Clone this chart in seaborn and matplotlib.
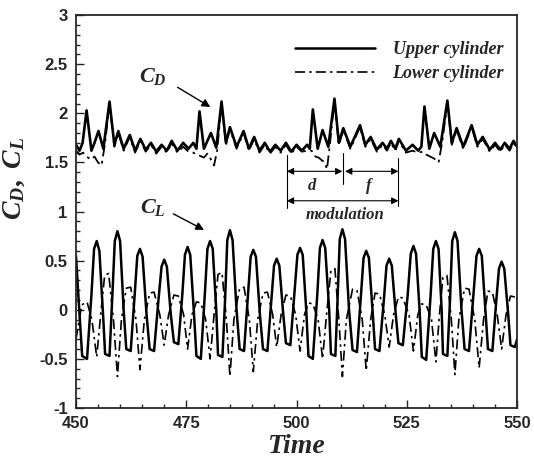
import numpy as np
import pandas as pd
import matplotlib
matplotlib.use("Agg")
import matplotlib.pyplot as plt
from matplotlib.lines import Line2D
import seaborn as sns

# lift coefficient, (time, value)
cl_upper = [
    (450.0, 0.55), (450.6, 0.10), (451.4, -0.47), (452.5, -0.50), (453.5, 0.15), (454.1, 0.62),
    (454.7, 0.70), (455.3, 0.60), (456.2, -0.10), (456.6, -0.45), (457.6, -0.47), (458.2, 0.10),
    (458.8, 0.70), (459.4, 0.80), (460.0, 0.70), (460.8, 0.00), (461.4, -0.40), (462.4, -0.42),
    (463.3, 0.15), (463.9, 0.55), (464.5, 0.62), (465.1, 0.54), (466.0, -0.05), (466.7, -0.40),
    (467.7, -0.42), (468.7, 0.10), (469.4, 0.44), (470.0, 0.51), (470.6, 0.44), (471.5, -0.05),
    (472.2, -0.33), (473.2, -0.35), (474.1, 0.15), (474.7, 0.56), (475.3, 0.64), (475.9, 0.56),
    (476.7, 0.00), (477.3, -0.47), (478.3, -0.50), (479.2, 0.15), (479.8, 0.62), (480.4, 0.70),
    (481.0, 0.62), (481.8, 0.00), (482.2, -0.46), (483.2, -0.48), (483.8, 0.10), (484.3, 0.71),
    (484.9, 0.81), (485.5, 0.71), (486.4, 0.00), (487.1, -0.40), (488.1, -0.42), (489.0, 0.15),
    (489.6, 0.54), (490.2, 0.61), (490.8, 0.54), (491.7, -0.05), (492.4, -0.40), (493.4, -0.42),
    (494.3, 0.10), (494.9, 0.45), (495.5, 0.52), (496.1, 0.45), (497.0, -0.05), (497.6, -0.34),
    (498.6, -0.36), (499.5, 0.15), (500.2, 0.56), (500.8, 0.63), (501.4, 0.56), (502.2, 0.00),
    (502.7, -0.47), (503.7, -0.50), (504.7, 0.15), (505.3, 0.63), (505.9, 0.71), (506.5, 0.63),
    (507.4, 0.00), (507.8, -0.45), (508.8, -0.47), (509.3, 0.10), (509.8, 0.72), (510.4, 0.82),
    (511.0, 0.72), (511.9, 0.00), (512.7, -0.41), (513.7, -0.43), (514.6, 0.15), (515.2, 0.53),
    (515.8, 0.60), (516.4, 0.53), (517.3, -0.05), (517.8, -0.40), (518.8, -0.42), (519.8, 0.10),
    (520.4, 0.45), (521.0, 0.52), (521.6, 0.45), (522.5, -0.05), (523.1, -0.34), (524.1, -0.36),
    (525.2, 0.15), (525.9, 0.57), (526.5, 0.65), (527.1, 0.57), (527.9, 0.00), (528.4, -0.48),
    (529.4, -0.51), (530.4, 0.15), (531.0, 0.62), (531.6, 0.70), (532.2, 0.62), (532.9, 0.00),
    (533.2, -0.45), (534.2, -0.47), (534.8, 0.10), (535.3, 0.70), (535.9, 0.79), (536.5, 0.70),
    (537.4, 0.00), (538.1, -0.40), (539.1, -0.42), (540.1, 0.15), (540.8, 0.55), (541.4, 0.62),
    (542.0, 0.55), (542.9, -0.05), (543.4, -0.40), (544.4, -0.42), (545.3, 0.10), (545.9, 0.42),
    (546.5, 0.49), (547.1, 0.42), (548.0, -0.05), (548.5, -0.36), (549.5, -0.38), (550.0, -0.30)]
cl_lower = [
    (450.0, -0.30), (451.3, 0.05), (452.5, 0.08), (453.6, -0.10), (454.7, -0.48), (455.6, -0.05),
    (456.5, 0.35), (457.4, 0.37), (458.5, -0.10), (459.4, -0.68), (460.3, -0.10), (461.4, 0.22),
    (462.4, 0.23), (463.6, -0.10), (464.5, -0.61), (465.5, -0.10), (466.7, 0.17), (467.7, 0.18),
    (469.0, -0.05), (470.0, -0.36), (471.0, -0.05), (472.2, 0.15), (473.2, 0.14), (474.4, -0.05),
    (475.3, -0.40), (476.3, -0.05), (477.3, 0.08), (478.3, 0.07), (479.4, -0.10), (480.4, -0.50),
    (481.3, -0.05), (482.2, 0.36), (483.1, 0.38), (484.1, -0.10), (484.9, -0.68), (485.8, -0.10),
    (487.1, 0.22), (488.1, 0.23), (489.3, -0.10), (490.2, -0.63), (491.2, -0.10), (492.4, 0.17),
    (493.4, 0.18), (494.6, -0.05), (495.5, -0.38), (496.5, -0.05), (497.6, 0.15), (498.6, 0.14),
    (499.8, -0.05), (500.8, -0.42), (501.8, -0.05), (502.7, 0.07), (503.7, 0.06), (504.9, -0.10),
    (505.9, -0.50), (506.8, -0.05), (507.8, 0.40), (508.7, 0.42), (509.6, -0.10), (510.4, -0.68),
    (511.3, -0.10), (512.7, 0.21), (513.7, 0.20), (514.9, -0.10), (515.8, -0.62), (516.8, -0.10),
    (517.8, 0.17), (518.8, 0.16), (520.0, -0.05), (521.0, -0.38), (522.0, -0.05), (523.1, 0.13),
    (524.1, 0.12), (525.5, -0.05), (526.5, -0.42), (527.5, -0.05), (528.4, 0.06), (529.4, 0.05),
    (530.6, -0.10), (531.6, -0.53), (532.4, -0.05), (533.2, 0.33), (534.1, 0.35), (535.1, -0.10),
    (535.9, -0.66), (536.8, -0.10), (538.1, 0.22), (539.1, 0.21), (540.4, -0.10), (541.4, -0.59),
    (542.4, -0.10), (543.4, 0.19), (544.4, 0.18), (545.5, -0.05), (546.5, -0.40), (547.5, -0.05),
    (548.5, 0.14), (549.5, 0.13), (550.0, 0.10)]

# drag coefficient, (time, value)
cd_upper = [
    (450.0, 1.68), (450.8, 1.62), (451.5, 1.70), (452.4, 2.03), (453.5, 1.62), (454.2, 1.70),
    (455.1, 1.82), (456.2, 1.64), (457.6, 2.12), (458.7, 1.68), (459.6, 1.82), (460.8, 1.64),
    (462.2, 1.78), (463.4, 1.62), (464.6, 1.74), (465.8, 1.63), (467.0, 1.70), (468.2, 1.61),
    (469.4, 1.68), (470.6, 1.62), (471.7, 1.72), (473.0, 1.62), (474.3, 1.70), (475.5, 1.64),
    (476.6, 1.70), (477.3, 1.64), (478.0, 2.02), (479.0, 1.64), (479.8, 1.72), (480.6, 1.80),
    (481.8, 1.65), (483.0, 2.12), (484.0, 1.70), (484.9, 1.86), (486.4, 1.66), (488.0, 1.82),
    (489.2, 1.64), (490.4, 1.76), (491.6, 1.62), (492.8, 1.70), (494.0, 1.61), (495.2, 1.68),
    (496.4, 1.62), (497.6, 1.70), (498.8, 1.61), (500.0, 1.68), (501.2, 1.62), (502.4, 1.68),
    (503.0, 1.64), (503.7, 2.04), (504.8, 1.64), (505.9, 1.83), (507.2, 1.66), (508.6, 2.15),
    (509.6, 1.70), (510.6, 1.85), (512.2, 1.66), (514.4, 1.88), (515.6, 1.68), (516.8, 1.76),
    (518.2, 1.63), (519.5, 1.70), (520.5, 1.64), (521.4, 1.72), (522.4, 1.64), (523.2, 1.74),
    (524.8, 1.62), (526.3, 1.68), (527.6, 1.62), (528.3, 1.66), (529.0, 2.07), (530.1, 1.64),
    (531.2, 1.80), (532.6, 1.66), (534.2, 2.13), (535.2, 1.70), (536.3, 1.85), (537.8, 1.66),
    (539.7, 1.88), (541.0, 1.68), (542.2, 1.76), (543.8, 1.63), (545.0, 1.70), (546.2, 1.63),
    (547.2, 1.70), (548.3, 1.64), (549.2, 1.72), (550.0, 1.66)]
cd_lower = [
    (450.0, 1.62), (450.8, 1.58), (451.6, 1.60), (452.4, 1.56), (453.4, 1.53), (454.2, 1.56),
    (455.0, 1.50), (455.8, 1.47), (456.6, 1.70), (457.6, 2.10), (458.7, 1.66), (459.6, 1.80),
    (460.8, 1.62), (462.2, 1.76), (463.4, 1.60), (464.6, 1.72), (465.8, 1.61), (467.0, 1.68),
    (468.2, 1.59), (469.4, 1.66), (470.6, 1.60), (471.7, 1.70), (473.0, 1.60), (474.3, 1.66),
    (475.5, 1.61), (476.6, 1.60), (477.3, 1.58), (478.0, 1.57), (479.0, 1.55), (479.8, 1.59),
    (480.6, 1.53), (481.3, 1.47), (482.0, 1.62), (483.0, 2.10), (484.0, 1.68), (484.9, 1.84),
    (486.4, 1.64), (488.0, 1.80), (489.2, 1.62), (490.4, 1.74), (491.6, 1.60), (492.8, 1.68),
    (494.0, 1.59), (495.2, 1.66), (496.4, 1.60), (497.6, 1.68), (498.8, 1.59), (500.0, 1.66),
    (501.2, 1.61), (502.4, 1.62), (503.4, 1.62), (504.3, 1.56), (505.0, 1.55), (505.8, 1.52),
    (506.4, 1.50), (506.9, 1.43), (507.6, 1.70), (508.6, 2.13), (509.6, 1.68), (510.6, 1.83),
    (512.2, 1.64), (514.4, 1.86), (515.6, 1.66), (516.8, 1.74), (518.2, 1.61), (519.5, 1.68),
    (520.5, 1.62), (521.4, 1.70), (522.4, 1.62), (523.2, 1.72), (524.8, 1.60), (526.3, 1.62),
    (527.6, 1.60), (528.6, 1.61), (529.4, 1.58), (530.3, 1.56), (531.2, 1.54), (532.2, 1.50),
    (533.0, 1.70), (534.2, 2.11), (535.2, 1.68), (536.3, 1.83), (537.8, 1.64), (539.7, 1.86),
    (541.0, 1.66), (542.2, 1.74), (543.8, 1.61), (545.0, 1.68), (546.2, 1.61), (547.2, 1.68),
    (548.3, 1.62), (549.2, 1.70), (550.0, 1.64)]

legend_labels = ["Upper cylinder", "Lower cylinder"]

sns.set_style("ticks")
plt.rcParams["font.family"] = ["Liberation Sans", "DejaVu Sans"]
plt.rcParams["mathtext.fontset"] = "custom"
plt.rcParams["mathtext.it"] = "Liberation Serif:italic:bold"
plt.rcParams["mathtext.rm"] = "Liberation Serif:bold"
plt.rcParams["mathtext.bf"] = "Liberation Serif:bold"

serif_bi = dict(family="Liberation Serif", weight="bold", style="italic")
dashdot = (6, 2.5, 1.5, 2.5)

fig = plt.figure(figsize=(5.34, 4.71), dpi=100)
ax = fig.add_axes([0.1423, 0.1338, 0.826, 0.834])

series = [(cl_upper, None, 1.8), (cl_lower, dashdot, 1.2),
          (cd_upper, None, 1.9), (cd_lower, dashdot, 1.3)]
for pts, dash, lw in series:
    df = pd.DataFrame(pts, columns=["Time", "C"])
    kw = {} if dash is None else {"dashes": dash}
    sns.lineplot(data=df, x="Time", y="C", ax=ax, color="k", lw=lw,
                 estimator=None, sort=False, legend=False, **kw)

ax.set_xlim(450, 550)
ax.set_ylim(-1, 3)
ax.set_xticks(np.arange(450, 551, 25))
ax.set_xticks(np.arange(450, 551, 5), minor=True)
ax.set_yticks(np.arange(-1, 3.01, 0.5))
ax.set_yticks(np.arange(-1, 3.01, 0.1), minor=True)
ax.set_yticklabels(["-1", "-0.5", "0", "0.5", "1", "1.5", "2", "2.5", "3"])
ax.tick_params(which="both", direction="in", top=False, right=False,
               labelsize=12, width=1.0, pad=6)
ax.tick_params(which="major", length=6)
ax.tick_params(which="minor", length=3)
for lab in ax.get_xticklabels() + ax.get_yticklabels():
    lab.set_fontweight("bold")
for sp in ax.spines.values():
    sp.set_linewidth(1.3)

ax.set_xlabel("Time", fontsize=20, labelpad=2, **serif_bi)
ax.set_ylabel(r"$C_D,\ C_L$", fontsize=20)
ax.yaxis.set_label_coords(-0.112, 0.585)

handles = [Line2D([], [], color="k", lw=1.8),
           Line2D([], [], color="k", lw=1.2, dashes=dashdot)]
ax.legend(handles, legend_labels, loc="upper left", bbox_to_anchor=(0.46, 0.975),
          frameon=False, handlelength=4.4, handletextpad=1.0, labelspacing=0.4,
          prop=dict(family="Liberation Serif", weight="bold", style="italic", size=13))

# labels with arrows
ax.text(467.5, 2.38, r"$C_D$", fontsize=16, ha="center", va="center")
ax.annotate("", xy=(481.0, 2.05), xytext=(472.5, 2.28),
            arrowprops=dict(arrowstyle="-|>", color="k", lw=1.0, mutation_scale=12))
ax.text(467.5, 1.04, r"$C_L$", fontsize=16, ha="center", va="center")
ax.annotate("", xy=(479.6, 0.80), xytext=(471.5, 0.99),
            arrowprops=dict(arrowstyle="-|>", color="k", lw=1.0, mutation_scale=12))

# modulation markers
for xv, y0, y1 in [(497.8, 1.58, 1.04), (510.6, 1.60, 1.28), (523.1, 1.55, 1.06)]:
    ax.plot([xv, xv], [y0, y1], color="k", lw=0.8)
arrow_kw = dict(arrowstyle="<|-|>", color="k", lw=0.8, mutation_scale=10,
                shrinkA=0, shrinkB=0)
ax.annotate("", xy=(497.8, 1.41), xytext=(510.4, 1.41), arrowprops=arrow_kw)
ax.annotate("", xy=(511.0, 1.41), xytext=(523.1, 1.41), arrowprops=arrow_kw)
ax.annotate("", xy=(497.8, 1.11), xytext=(523.1, 1.11), arrowprops=arrow_kw)
ax.text(503.4, 1.26, "d", fontsize=12, ha="center", va="center", **serif_bi)
ax.text(516.3, 1.26, "f", fontsize=12, ha="center", va="center", **serif_bi)
ax.text(511.0, 0.97, "modulation", fontsize=12, ha="center", va="center", **serif_bi)

fig.savefig("out.png", dpi=100)
